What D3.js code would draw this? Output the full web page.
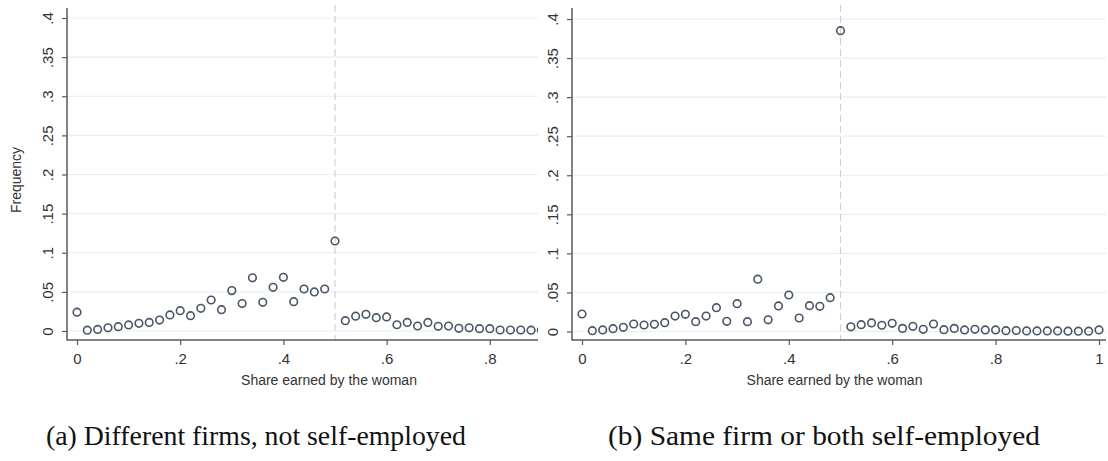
<!DOCTYPE html>
<html>
<head>
<meta charset="utf-8">
<script src="https://cdn.jsdelivr.net/npm/d3@7/dist/d3.min.js"></script>
<style>
  html, body { margin: 0; padding: 0; background: #ffffff; }
  svg { display: block; }
  .tick text { font-family: "Liberation Sans", Arial, sans-serif; }
</style>
</head>
<body>
<svg id="chart" width="1108" height="461"></svg>
<script>
// Share of couple earnings going to the woman, binned in steps of 0.02
const shareBins = d3.range(0, 51).map(i => +(i * 0.02).toFixed(2));

// (a) Different firms, not self-employed (bins up to 0.90 are visible)
const freqDifferentFirms = [
  0.024, 0.001, 0.002, 0.004, 0.0055, 0.0077, 0.0098, 0.011, 0.014, 0.0205,
  0.026, 0.0196, 0.029, 0.0396, 0.0273, 0.0516, 0.035, 0.068, 0.0366, 0.0558,
  0.0686, 0.0375, 0.0537, 0.0499, 0.0537, 0.115, 0.0132, 0.019, 0.0213, 0.017,
  0.018, 0.008, 0.011, 0.0064, 0.011, 0.006, 0.0064, 0.0034, 0.004, 0.003,
  0.003, 0.0013, 0.0013, 0.0013, 0.001, 0.001
];

// (b) Same firm or both self-employed
const freqSameFirm = [
  0.0224, 0.001, 0.002, 0.0036, 0.0053, 0.0096, 0.0083, 0.0092, 0.0113, 0.0198,
  0.022, 0.0126, 0.0198, 0.0305, 0.013, 0.0356, 0.0126, 0.067, 0.015, 0.0327,
  0.0467, 0.0173, 0.033, 0.0322, 0.0433, 0.385, 0.006, 0.0087, 0.011, 0.008,
  0.0105, 0.004, 0.0066, 0.0028, 0.0096, 0.0023, 0.004, 0.002, 0.0028, 0.002,
  0.002, 0.001, 0.0013, 0.0007, 0.0007, 0.0007, 0.0007, 0.0004, 0.0004, 0.0004,
  0.002
];

const yTickValues = [0, 0.05, 0.1, 0.15, 0.2, 0.25, 0.3, 0.35, 0.4];
const yTickLabels = ["0", ".05", ".1", ".15", ".2", ".25", ".3", ".35", ".4"];
const xTickValues = [0, 0.2, 0.4, 0.6, 0.8, 1];
const xTickLabels = ["0", ".2", ".4", ".6", ".8", "1"];

const xTitle = "Share earned by the woman";
const yTitle = "Frequency";
const captions = ["(a) Different firms, not self-employed", "(b) Same firm or both self-employed"];

const svg = d3.select("#chart");

const AXIS = "#5a5a5a";
const GRID = "#eaeef0";
const MARK = "#4b5568";
const REF = "#c9d0d6";

// Panel layout: plot frame and the pixel range the unit interval maps to
const panels = [
  { data: freqDifferentFirms, frame: { left: 67, right: 538, top: 8, bottom: 340 },
    xRange: [77, 593], yRange: [331, 18], yTitle: true,
    caption: captions[0], capX: 46, capW: 420 },
  { data: freqSameFirm, frame: { left: 572, right: 1106, top: 8, bottom: 340 },
    xRange: [582, 1099], yRange: [331.5, 19], yTitle: false,
    caption: captions[1], capX: 608, capW: 432 }
];

panels.forEach((p, idx) => {
  const x = d3.scaleLinear().domain([0, 1]).range(p.xRange);
  const y = d3.scaleLinear().domain([0, 0.4]).range(p.yRange);
  const f = p.frame;

  const clipId = "clip" + idx;
  svg.append("clipPath").attr("id", clipId)
    .append("rect").attr("x", f.left - 30).attr("y", 0)
    .attr("width", f.right - f.left + 30).attr("height", f.bottom + 60);

  const g = svg.append("g").attr("clip-path", `url(#${clipId})`);

  // horizontal grid
  g.append("g").selectAll("line").data(yTickValues).join("line")
    .attr("x1", f.left + 1).attr("x2", f.right)
    .attr("y1", d => y(d)).attr("y2", d => y(d))
    .attr("stroke", GRID).attr("stroke-width", 1.2);

  // reference line at equal split
  g.append("line")
    .attr("x1", x(0.5)).attr("x2", x(0.5))
    .attr("y1", f.top - 3).attr("y2", f.bottom)
    .attr("stroke", REF).attr("stroke-width", 1.1)
    .attr("stroke-dasharray", "7,4");

  // y axis
  const yAxis = d3.axisLeft(y).tickValues(yTickValues)
    .tickFormat((d, i) => yTickLabels[i]).tickSize(5).tickPadding(6);
  const ya = g.append("g").attr("transform", `translate(${f.left},0)`).call(yAxis);
  ya.select(".domain").remove();
  ya.selectAll(".tick line").attr("stroke", AXIS).attr("stroke-width", 1.2);
  ya.selectAll(".tick text")
    .attr("transform", "rotate(-90)")
    .attr("x", 0).attr("y", -19).attr("dy", "0.35em")
    .attr("text-anchor", "middle")
    .attr("fill", "#333").style("font-size", "15px");

  // x axis
  const xAxis = d3.axisBottom(x).tickValues(xTickValues)
    .tickFormat((d, i) => xTickLabels[i]).tickSize(5).tickPadding(8);
  const xa = g.append("g").attr("transform", `translate(0,${f.bottom})`).call(xAxis);
  xa.select(".domain").remove();
  xa.selectAll(".tick line").attr("stroke", AXIS).attr("stroke-width", 1.2);
  xa.selectAll(".tick text").attr("fill", "#333").style("font-size", "15px");

  // axis lines
  g.append("line").attr("x1", f.left).attr("x2", f.left)
    .attr("y1", f.top).attr("y2", f.bottom + 0.5)
    .attr("stroke", AXIS).attr("stroke-width", 1.5);
  g.append("line").attr("x1", f.left).attr("x2", f.right)
    .attr("y1", f.bottom).attr("y2", f.bottom)
    .attr("stroke", AXIS).attr("stroke-width", 1.5);

  // hollow markers
  g.append("g").selectAll("circle").data(p.data).join("circle")
    .attr("cx", (d, i) => x(shareBins[i]))
    .attr("cy", d => y(d))
    .attr("r", 3.8)
    .attr("fill", "none")
    .attr("stroke", MARK).attr("stroke-width", 1.6);

  // x title
  svg.append("text")
    .attr("x", (x(0) + x(1)) / 2 - 6).attr("y", 385)
    .attr("text-anchor", "middle")
    .style("font-family", "'Liberation Sans', Arial, sans-serif")
    .style("font-size", "14px").attr("fill", "#333")
    .text(xTitle);

  if (p.yTitle) {
    svg.append("text")
      .attr("transform", `translate(16,${(f.top + f.bottom) / 2 + 6}) rotate(-90)`)
      .attr("text-anchor", "middle").attr("dy", "0.35em")
      .style("font-family", "'Liberation Sans', Arial, sans-serif")
      .style("font-size", "14px").attr("fill", "#333")
      .text(yTitle);
  }

  // caption
  svg.append("text")
    .attr("x", p.capX).attr("y", 445)
    .attr("textLength", p.capW).attr("lengthAdjust", "spacingAndGlyphs")
    .style("font-family", "'Liberation Serif', 'DejaVu Serif', serif")
    .style("font-size", "27px").attr("fill", "#111")
    .text(p.caption);
});
</script>
</body>
</html>
